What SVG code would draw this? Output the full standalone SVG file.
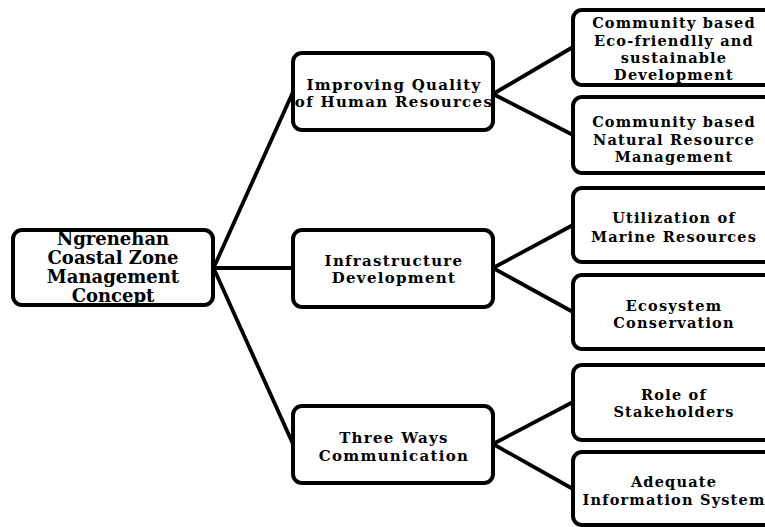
<svg xmlns="http://www.w3.org/2000/svg" width="765" height="527" viewBox="0 0 765 527">
<style>
.box{fill:#fff;stroke:#000;stroke-width:4;}
.c{fill:none;stroke:#000;stroke-width:3.8;stroke-linecap:round;}
text{font-family:"DejaVu Serif","Liberation Serif",serif;font-weight:bold;fill:#000;text-anchor:middle;}
.r{font-size:18px;}
.m{font-size:15px;letter-spacing:1.3px;}
.l{font-size:14.5px;letter-spacing:1.2px;}
</style>
<rect width="765" height="527" fill="#fff"/>
<g id="connectors">
<path class="c" d="M214 267 L293 92 M214 268 L293 268 M214 269 L293 444"/>
<path class="c" d="M493 94 L573 47 M493 94 L573 135"/>
<path class="c" d="M493 268 L573 225 M493 268 L573 312"/>
<path class="c" d="M493 444 L573 402 M493 444 L573 489"/>
</g>
<g id="root">
<rect class="box" x="13" y="230" width="200" height="75" rx="9"/>
<text class="r" x="113" y="245">Ngrenehan</text>
<text class="r" x="113" y="264">Coastal Zone</text>
<text class="r" x="113" y="283">Management</text>
<text class="r" x="113" y="302">Concept</text>
</g>
<g id="n-quality">
<rect class="box" x="293" y="53" width="200" height="77" rx="9"/>
<text class="m" x="394" y="90">Improving Quality</text>
<text class="m" x="394" y="107">of Human Resources</text>
</g>
<g id="n-infra">
<rect class="box" x="293" y="230" width="200" height="77" rx="9"/>
<text class="m" x="394" y="266">Infrastructure</text>
<text class="m" x="394" y="283">Development</text>
</g>
<g id="n-comm">
<rect class="box" x="293" y="406" width="200" height="77" rx="9"/>
<text class="m" x="394" y="443">Three Ways</text>
<text class="m" x="394" y="461">Communication</text>
</g>
<g id="n-eco">
<rect class="box" x="573" y="10" width="200" height="75" rx="9"/>
<text class="l" x="674" y="28">Community based</text>
<text class="l" x="674" y="46">Eco-friendlly and</text>
<text class="l" x="674" y="63">sustainable</text>
<text class="l" x="674" y="80">Development</text>
</g>
<g id="n-nrm">
<rect class="box" x="573" y="97" width="200" height="76" rx="9"/>
<text class="l" x="674" y="127">Community based</text>
<text class="l" x="674" y="145">Natural Resource</text>
<text class="l" x="674" y="162">Management</text>
</g>
<g id="n-marine">
<rect class="box" x="573" y="188" width="200" height="74" rx="9"/>
<text class="l" x="674" y="223">Utilization of</text>
<text class="l" x="674" y="242">Marine Resources</text>
</g>
<g id="n-ecosys">
<rect class="box" x="573" y="275" width="200" height="74" rx="9"/>
<text class="l" x="674" y="311">Ecosystem</text>
<text class="l" x="674" y="328">Conservation</text>
</g>
<g id="n-role">
<rect class="box" x="573" y="365" width="200" height="75" rx="9"/>
<text class="l" x="674" y="400">Role of</text>
<text class="l" x="674" y="417">Stakeholders</text>
</g>
<g id="n-info">
<rect class="box" x="573" y="452" width="200" height="73" rx="9"/>
<text class="l" x="674" y="487">Adequate</text>
<text class="l" x="674" y="505">Information System</text>
</g>
</svg>
